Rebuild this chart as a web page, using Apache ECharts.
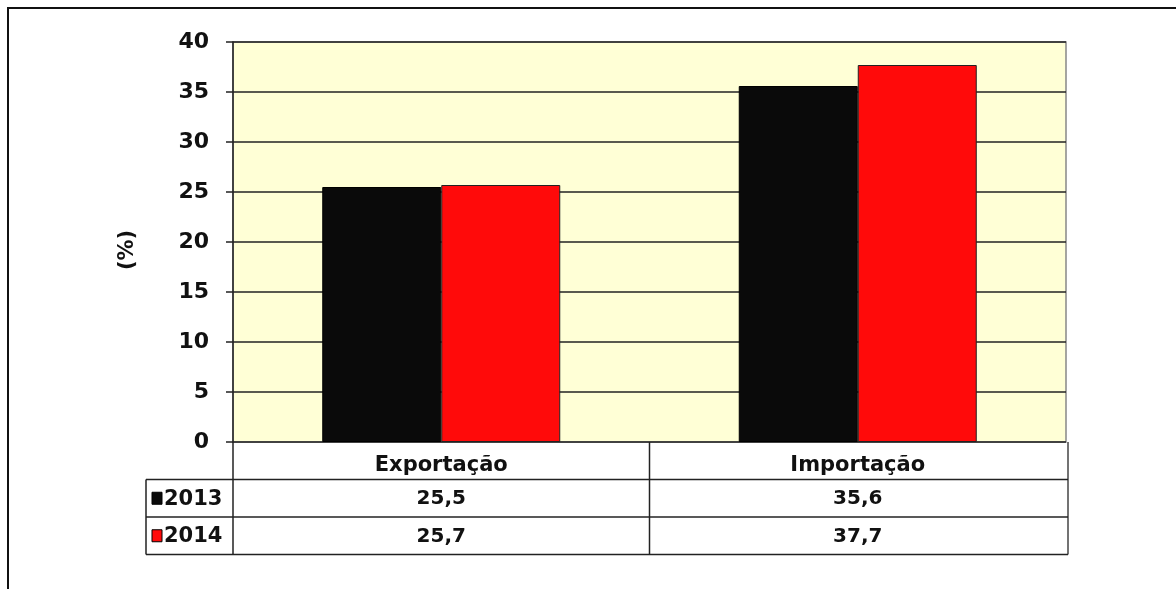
<!DOCTYPE html>
<html>
<head>
<meta charset="utf-8">
<script src="https://cdn.jsdelivr.net/npm/echarts@6/dist/echarts.min.js"></script>
<style>
html,body{margin:0;padding:0;background:#fff;}
#chart{width:1176px;height:589px;}
</style>
</head>
<body>
<div id="chart"></div>
<script>
// dados
var categorias = ['Exportação', 'Importação'];
var anos = ['2013', '2014'];
var valores2013 = [25.5, 35.6];
var valores2014 = [25.7, 37.7];
var cores = ['#0a0a0a', '#ff0a0a'];

function fmt(v){ return v.toFixed(1).replace('.', ','); }

var chart = echarts.init(document.getElementById('chart'));

var gL = 233, gT = 42, gW = 833, gH = 400;
var rowH = 37.5;
var fonte = '"DejaVu Sans", sans-serif';

/*
* tabela de dados abaixo do gráfico
*/
var linhas = [valores2013, valores2014];
var graphic = [];
// moldura externa
graphic.push({type:'rect', shape:{x:8, y:8, width:1180, height:600}, style:{fill:'none', stroke:'#111', lineWidth:2}, silent:true});
// titulo do eixo
graphic.push({type:'text', x:128, y:250, rotation:Math.PI / 2,
  style:{text:'(%)', font:'bold 21px ' + fonte, fill:'#111', textAlign:'center', textVerticalAlign:'middle'}});
var yTab = gT + gH;
var xMeio = gL + gW / 2;
var xFim = gL + gW + 2;
// verticais
graphic.push({type:'line', shape:{x1:gL, y1:yTab, x2:gL, y2:yTab + rowH * 3}, style:{stroke:'#222', lineWidth:1.5}});
graphic.push({type:'line', shape:{x1:xMeio, y1:yTab, x2:xMeio, y2:yTab + rowH * 3}, style:{stroke:'#222', lineWidth:1.5}});
graphic.push({type:'line', shape:{x1:xFim, y1:yTab, x2:xFim, y2:yTab + rowH * 3}, style:{stroke:'#444', lineWidth:1.5}});
graphic.push({type:'line', shape:{x1:146, y1:yTab + rowH, x2:146, y2:yTab + rowH * 3}, style:{stroke:'#222', lineWidth:1.5}});
// horizontais
for (var r = 1; r <= 3; r++) {
  graphic.push({type:'line', shape:{x1:146, y1:yTab + rowH * r, x2:xFim, y2:yTab + rowH * r}, style:{stroke:'#222', lineWidth:1.5}});
}
for (var i = 0; i < anos.length; i++) {
  var yc = yTab + rowH * (i + 1) + rowH / 2;
  graphic.push({type:'rect', shape:{x:152, y:yc - 6, width:10, height:12}, style:{fill:cores[i], stroke:'#000', lineWidth:1}});
  graphic.push({type:'text', x:164, y:yc + 1, style:{text:anos[i], font:'bold 21px ' + fonte, fill:'#111', textVerticalAlign:'middle'}});
  for (var j = 0; j < categorias.length; j++) {
    graphic.push({type:'text', x:gL + gW / 4 + j * gW / 2, y:yc + 1,
      style:{text:fmt(linhas[i][j]), font:'bold 20px ' + fonte, fill:'#111', textAlign:'center', textVerticalAlign:'middle'}});
  }
}

var option = {
  animation: false,
  grid: {left:gL, top:gT, width:gW, height:gH, show:true, backgroundColor:'#ffffd6', borderColor:'#888', borderWidth:1.5},
  xAxis: {
    type:'category',
    data:categorias,
    axisLine:{show:false},
    axisTick:{show:false},
    axisLabel:{color:'#111', fontSize:21, fontWeight:'bold', fontFamily:fonte, margin:13}
  },
  yAxis: {
    type:'value',
    min:0, max:40, interval:5,
    axisLine:{show:true, lineStyle:{color:'#222', width:1.5}},
    axisTick:{show:true, length:7, lineStyle:{color:'#222', width:1.5}},
    axisLabel:{color:'#111', fontSize:22, fontWeight:'bold', fontFamily:fonte, margin:24},
    splitLine:{lineStyle:{color:'#222', width:1.5}}
  },
  series: [
    {name:anos[0], type:'bar', data:valores2013, barWidth:119, barGap:'0%',
      itemStyle:{color:cores[0], borderColor:'#000', borderWidth:1}},
    {name:anos[1], type:'bar', data:valores2014, barWidth:119,
      itemStyle:{color:cores[1], borderColor:'#222', borderWidth:1}}
  ],
  graphic: graphic
};

chart.setOption(option);
</script>
</body>
</html>
